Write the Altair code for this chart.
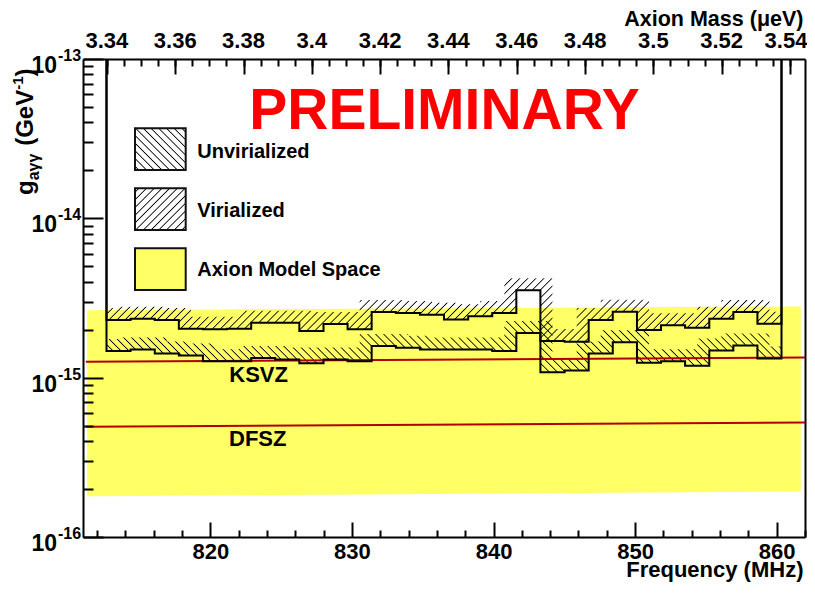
import altair as alt
import pandas as pd
import math

# ---------------- data ----------------
bin_edges = [812.66, 814.36, 816.07, 817.77, 819.47, 821.18, 822.88, 824.58, 826.28,
             827.99, 829.69, 831.39, 833.10, 834.80, 836.50, 838.21, 839.91, 841.61,
             843.31, 845.02, 846.72, 848.42, 850.13, 851.83, 853.53, 855.24, 856.94,
             858.64, 860.34]
# limits in units of 1e-15 GeV^-1
virialized = [2.30, 2.34, 2.30, 2.03, 2.01, 2.03, 2.21, 2.21, 1.96, 2.17, 2.01, 2.58,
              2.55, 2.48, 2.32, 2.43, 2.55, 3.54, 1.70, 1.68, 2.30, 2.59, 1.99, 2.13,
              2.06, 2.34, 2.58, 2.18]
unvirialized = [1.47, 1.50, 1.42, 1.38, 1.27, 1.27, 1.33, 1.30, 1.23, 1.30, 1.27, 1.58,
                1.54, 1.50, 1.50, 1.50, 1.47, 1.91, 1.08, 1.11, 1.42, 1.67, 1.24, 1.27,
                1.19, 1.48, 1.59, 1.32]
model_freq = [811.3, 861.7]
model_top = [2.65e-15, 2.80e-15]
model_bottom = [1.80e-16, 1.93e-16]
line_freq = [811.2, 862.0]
ksvz = [1.26e-15, 1.34e-15]
dfsz = [4.92e-16, 5.23e-16]

freq_major = [820, 830, 840, 850, 860]
freq_minor = [812, 814, 816, 818, 822, 824, 826, 828, 832, 834, 836, 838, 842, 844,
              846, 848, 852, 854, 856, 858, 862]
mass_major = [3.34, 3.36, 3.38, 3.40, 3.42, 3.44, 3.46, 3.48, 3.50, 3.52, 3.54]
mass_text = ["3.34", "3.36", "3.38", "3.4", "3.42", "3.44", "3.46", "3.48", "3.5",
             "3.52", "3.54"]
mass_minor = [round(3.34 + 0.005 * i, 3) for i in range(41)]
y_major = [1e-16, 1e-15, 1e-14, 1e-13]
y_exp = ["-16", "-15", "-14", "-13"]
y_minor = [k * 10.0 ** e for e in (-16, -15, -14) for k in range(2, 10)]

# ---------------- layout constants ----------------
W, H = 722, 478
XDOM = [811.0, 862.0]
MDOM = [3.3330, 3.5444]
YDOM = [1e-16, 1e-13]
FONT = "Liberation Sans"
PX_MHZ = W / (XDOM[1] - XDOM[0])
PX_DEC = H / 3.0
BAND_PX = 12.0
D_MHZ = BAND_PX / PX_MHZ
FAC = 10 ** (BAND_PX / PX_DEC)


def xs():
    return alt.Scale(domain=XDOM, nice=False, zero=False)


def ys():
    return alt.Scale(type="log", domain=YDOM, nice=False)


def ms():
    return alt.Scale(domain=MDOM, nice=False, zero=False)


def val_at(vals, x):
    for i in range(len(vals)):
        if bin_edges[i] <= x < bin_edges[i + 1]:
            return vals[i]
    return vals[-1]


def band_df(vals):
    bps = set(bin_edges)
    for e in bin_edges[1:-1]:
        bps.add(e - D_MHZ)
        bps.add(e + D_MHZ)
    bps = sorted(b for b in bps if bin_edges[0] <= b <= bin_edges[-1])
    rows = []
    for a, b in zip(bps[:-1], bps[1:]):
        m = 0.5 * (a + b)
        lo = val_at(vals, m)
        near = [vals[i] for i in range(len(vals))
                if bin_edges[i] < m + D_MHZ and bin_edges[i + 1] > m - D_MHZ]
        rows.append({"f": a, "lo": lo * 1e-15, "hi": max(near) * FAC * 1e-15})
    rows.append({"f": bps[-1], "lo": rows[-1]["lo"], "hi": rows[-1]["hi"]})
    return pd.DataFrame(rows)


def step_df(vals):
    rows = [{"f": bin_edges[0], "g": 1e-13, "o": 0}]
    for i, v in enumerate(vals):
        rows.append({"f": bin_edges[i], "g": v * 1e-15, "o": i + 1})
    rows.append({"f": bin_edges[-1], "g": vals[-1] * 1e-15, "o": len(vals) + 1})
    rows.append({"f": bin_edges[-1], "g": 1e-13, "o": len(vals) + 2})
    return pd.DataFrame(rows)


def hatch(w_px, h_px, kind, spacing=8.0, thick=1.2, color="#000000"):
    r = h_px / w_px
    s = (1 + r) / (1 + r * r)
    span = w_px * (1 + r)
    n = max(1, int(round(span / spacing)))
    half = thick / span
    clear = "rgba(0,0,0,0)"
    stops = [alt.GradientStop(color=clear, offset=0)]
    for k in range(n):
        c = (k + 0.5) / n
        stops.append(alt.GradientStop(color=clear, offset=c - half))
        stops.append(alt.GradientStop(color=color, offset=c))
        stops.append(alt.GradientStop(color=clear, offset=c + half))
    stops.append(alt.GradientStop(color=clear, offset=1))
    if kind == "/":
        return alt.LinearGradient(gradient="linear", stops=stops, x1=0, y1=0, x2=s, y2=s * r)
    return alt.LinearGradient(gradient="linear", stops=stops, x1=0, y1=1, x2=s, y2=1 - s * r)


def band_layer(vals, kind):
    df = band_df(vals)
    wpx = (bin_edges[-1] - bin_edges[0]) * PX_MHZ
    hpx = (math.log10(df["hi"].max()) - math.log10(df["lo"].min())) * PX_DEC
    return alt.Chart(df).mark_area(interpolate="step-after", fill=hatch(wpx, hpx, kind),
                                   strokeWidth=0).encode(
        x=alt.X("f:Q", scale=xs(), axis=None),
        y=alt.Y("lo:Q", scale=ys(), axis=None),
        y2="hi:Q")


lab = dict(labelFont=FONT, labelFontSize=22, labelFontWeight="bold", labelColor="black",
           labelFlush=False, labelOverlap=False, grid=False)

model_df = pd.DataFrame({"f": model_freq, "top": model_top, "bot": model_bottom})
yellow = alt.Chart(model_df).mark_area(color="#ffff66").encode(
    x=alt.X("f:Q", scale=xs(), axis=alt.Axis(
        orient="bottom", values=freq_major, format="d", labelBaseline="alphabetic",
        labelPadding=21, ticks=False, tickSize=0, domain=True, domainColor="black",
        domainWidth=2, title="Frequency (MHz)", titleFont=FONT, titleFontSize=22,
        titleFontWeight="bold", titleColor="black", titleAlign="right", titleAnchor="end",
        titleBaseline="alphabetic", titleX=720, titleY=39, **lab)),
    y=alt.Y("top:Q", scale=ys(), axis=alt.Axis(
        orient="left", labels=False, ticks=False, domain=True, domainColor="black",
        domainWidth=2, title=None, grid=False)),
    y2="bot:Q")

ks_df = pd.DataFrame({"f": line_freq, "g": ksvz})
df_df = pd.DataFrame({"f": line_freq, "g": dfsz})
tick_common = dict(labels=False, domain=False, title=None, grid=False, tickColor="black",
                   tickWidth=2, zindex=3)
ksvz_line = alt.Chart(ks_df).mark_line(color="#b00000", strokeWidth=2).encode(
    x=alt.X("f:Q", scale=xs(), axis=alt.Axis(orient="top", offset=-H, values=freq_major,
                                            tickSize=15, **tick_common)),
    y=alt.Y("g:Q", scale=ys(), axis=alt.Axis(orient="right", offset=-W, values=y_major,
                                            tickSize=20, **tick_common)))
dfsz_line = alt.Chart(df_df).mark_line(color="#b00000", strokeWidth=2).encode(
    x=alt.X("f:Q", scale=xs(), axis=alt.Axis(orient="top", offset=-H, values=freq_minor,
                                            tickSize=7, **tick_common)),
    y=alt.Y("g:Q", scale=ys(), axis=alt.Axis(orient="right", offset=-W, values=y_minor,
                                            tickSize=10, **tick_common)))

mass_df = pd.DataFrame({"m": mass_major, "t": mass_text})
mass_minor_df = pd.DataFrame({"m": mass_minor})
mass_frame = alt.Chart(mass_df).mark_point(opacity=0).encode(
    x=alt.X("m:Q", scale=ms(), axis=alt.Axis(
        orient="top", values=mass_major, labels=False, ticks=False, tickSize=0, domain=True,
        domainColor="black", domainWidth=2, grid=False, title="Axion Mass (\u03bceV)",
        titleFont=FONT, titleFontSize=21.5, titleFontWeight="bold", titleColor="black",
        titleAlign="right", titleAnchor="end", titleBaseline="alphabetic", titleX=720,
        titleY=-34)))
mass_ticks = alt.Chart(mass_df).mark_point(opacity=0).encode(
    x=alt.X("m:Q", scale=ms(), axis=alt.Axis(orient="bottom", offset=-H, values=mass_major,
                                             tickSize=15, **tick_common)))
mass_ticks2 = alt.Chart(mass_minor_df).mark_point(opacity=0).encode(
    x=alt.X("m:Q", scale=ms(), axis=alt.Axis(orient="bottom", offset=-H, values=mass_minor,
                                             tickSize=7, **tick_common)))


def mass_label_layer(df, dx):
    return alt.Chart(df).mark_text(
        align="center", baseline="alphabetic", dx=dx, font=FONT, fontSize=22,
        fontWeight="bold", color="black").encode(
        x=alt.X("m:Q", scale=ms(), axis=None), y=alt.value(-11), text="t:N")


mass_lab_a = mass_label_layer(mass_df.iloc[:-1], 0)
mass_lab_b = mass_label_layer(mass_df.iloc[-1:], -4)

ylab_df = pd.DataFrame({"v": y_major, "base": ["10"] * 4, "e": y_exp})
ylab_base = alt.Chart(ylab_df).mark_text(
    align="right", baseline="alphabetic", dy=14, font=FONT, fontSize=23, fontWeight="bold",
    color="black").encode(
    x=alt.value(-26), text="base:N",
    y=alt.Y("v:Q", scale=ys(), axis=alt.Axis(orient="right", labels=False, ticks=False,
                                            domain=True, domainColor="black", domainWidth=2,
                                            title=None, grid=False)))
ylab_exp = alt.Chart(ylab_df).mark_text(
    align="left", baseline="alphabetic", dy=2, font=FONT, fontSize=16, fontWeight="bold",
    color="black").encode(
    x=alt.value(-25), text="e:N", y=alt.Y("v:Q", scale=ys(), axis=None))

vir_step = alt.Chart(step_df(virialized)).mark_line(
    interpolate="step-after", color="black", strokeWidth=2).encode(
    x=alt.X("f:Q", scale=xs(), axis=None), y=alt.Y("g:Q", scale=ys(), axis=None),
    order="o:Q")
unvir_step = alt.Chart(step_df(unvirialized)).mark_line(
    interpolate="step-after", color="black", strokeWidth=2).encode(
    x=alt.X("f:Q", scale=xs(), axis=None), y=alt.Y("g:Q", scale=ys(), axis=None),
    order="o:Q")


def txt(s, x, y, size=22, color="black", align="left", angle=0):
    return alt.Chart(pd.DataFrame({"t": [s]})).mark_text(
        align=align, baseline="alphabetic", font=FONT, fontSize=size, fontWeight="bold",
        color=color, angle=angle).encode(x=alt.value(x), y=alt.value(y), text="t:N")


def legend_box(y0, fill):
    return alt.Chart(pd.DataFrame({"a": [0]})).mark_rect(
        fill=fill, stroke="#111111", strokeWidth=2).encode(
        x=alt.value(52), x2=alt.value(102.7), y=alt.value(y0), y2=alt.value(y0 + 41.7))


layers = [
    yellow,
    band_layer(unvirialized, "\\"),
    band_layer(virialized, "/"),
    ksvz_line, dfsz_line,
    vir_step, unvir_step,
    mass_frame, mass_ticks, mass_ticks2, mass_lab_a, mass_lab_b,
    ylab_base, ylab_exp,
    txt("PRELIMINARY", 361.5, 70, size=57, color="#ff0000", align="center"),
    legend_box(69.3, hatch(50.7, 41.7, "\\")),
    legend_box(129.3, hatch(50.7, 41.7, "/")),
    legend_box(189.3, "#ffff66"),
    txt("Unvirialized", 114.3, 98.7, size=20),
    txt("Virialized", 114.3, 158.3, size=20),
    txt("Axion Model Space", 114.3, 217, size=20),
    txt("KSVZ", 146.3, 322.7, size=22),
    txt("DFSZ", 146, 387, size=22),
    # y-axis title: g_{a\u03b3\u03b3} (GeV^{-1})
    txt("g", -50, 136, size=24, angle=270),
    txt("a\u03b3\u03b3", -44, 121.3, size=16, angle=270),
    txt("(GeV", -50, 86.8, size=24, angle=270),
    txt("-1", -60, 30.8, size=15, angle=270),
    txt(")", -50, 17.5, size=24, angle=270),
]

chart = alt.layer(*layers).resolve_scale(x="independent", y="independent").properties(
    width=W, height=H,
    padding={"left": 75, "top": 51, "right": 2, "bottom": 45},
    autosize=alt.AutoSizeParams(type="none"),
    background="white",
).configure_view(stroke=None)

chart.save("out.html", embed_options={"renderer": "svg", "actions": False})
